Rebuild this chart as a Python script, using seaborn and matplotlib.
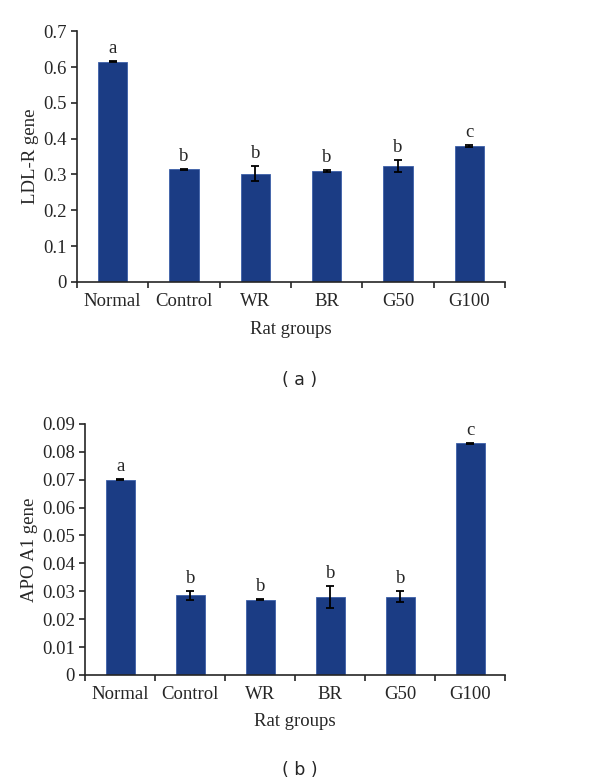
import pandas as pd
import matplotlib
matplotlib.use("Agg")
import matplotlib.pyplot as plt
import seaborn as sns
import numpy as np

# Данные
groups = ["Normal", "Control", "WR", "BR", "G50", "G100"]

ldlr_mean = [0.615, 0.314, 0.302, 0.309, 0.324, 0.380]
ldlr_err = [0.002, 0.002, 0.021, 0.003, 0.016, 0.002]
ldlr_letters = ["a", "b", "b", "b", "b", "c"]

apoa1_mean = [0.0700, 0.0285, 0.0270, 0.0280, 0.0280, 0.0830]
apoa1_err = [0.0002, 0.0016, 0.0002, 0.0040, 0.0020, 0.0002]
apoa1_letters = ["a", "b", "b", "b", "b", "c"]

bar_color = "#1b3c84"

sns.set_style("ticks")
plt.rcParams["font.family"] = ["Liberation Serif", "DejaVu Serif"]
plt.rcParams["axes.linewidth"] = 1.2

fig = plt.figure(figsize=(6, 7.83), dpi=100)


def draw_panel(ax, means, errs, letters, ylabel, ymax, ystep, fmt, xpad, xlabpad):
    df = pd.DataFrame({"group": groups, "value": means})
    sns.barplot(data=df, x="group", y="value", color=bar_color,
                width=0.41, saturation=1, edgecolor="#3d5fa8",
                linewidth=0.6, ax=ax)
    ax.errorbar(np.arange(len(groups)), means, yerr=errs, fmt="none",
                ecolor="black", elinewidth=1.3, capsize=3, capthick=1.3)
    for i, (m, e, t) in enumerate(zip(means, errs, letters)):
        ax.annotate(t, (i, m + e), xytext=(0, 3), textcoords="offset points",
                    ha="center", va="bottom", fontsize=13.5)
    ax.set_xlim(-0.5, len(groups) - 0.5)
    ax.set_ylim(0, ymax)
    ticks = np.arange(0, ymax + ystep / 2, ystep)
    ax.set_yticks(ticks)
    ax.set_yticklabels([fmt(t) for t in ticks])
    ax.set_xticks(np.arange(len(groups)))
    ax.set_xticklabels(groups)
    ax.set_xticks(np.arange(-0.5, len(groups)), minor=True)
    ax.tick_params(axis="x", which="major", length=0, labelsize=13.5, pad=xpad)
    ax.tick_params(axis="x", which="minor", length=4, width=1.2, direction="out")
    ax.tick_params(axis="y", length=4, width=1.2, labelsize=13.5)
    ax.set_xlabel("Rat groups", fontsize=13.5, labelpad=xlabpad)
    ax.set_ylabel(ylabel, fontsize=13.5, labelpad=3)
    sns.despine(ax=ax)


def fmt_a(v):
    return "0" if abs(v) < 1e-9 else f"{v:.1f}"


def fmt_b(v):
    return "0" if abs(v) < 1e-9 else f"{v:.2f}"


ax1 = fig.add_axes([0.128, 0.640, 0.714, 0.320])
draw_panel(ax1, ldlr_mean, ldlr_err, ldlr_letters, "LDL-R gene", 0.7, 0.1, fmt_a, 8, 8)

ax2 = fig.add_axes([0.142, 0.138, 0.700, 0.3206])
draw_panel(ax2, apoa1_mean, apoa1_err, apoa1_letters, "APO A1 gene", 0.09, 0.01, fmt_b, 8, 7)

fig.text(0.5, 1 - 380 / 783, "( a )", ha="center", va="center",
         fontsize=12.5, family=["DejaVu Sans"])
fig.text(0.5, 1 - 770 / 783, "( b )", ha="center", va="center",
         fontsize=12.5, family=["DejaVu Sans"])

plt.savefig("out.png", dpi=100)
